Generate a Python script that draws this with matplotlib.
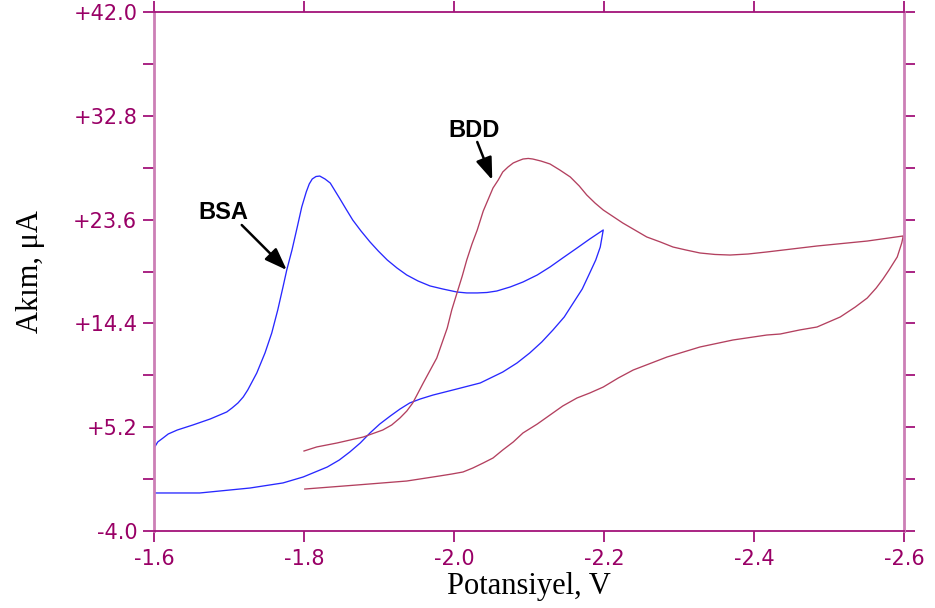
import matplotlib
matplotlib.use("Agg")
import matplotlib.pyplot as plt

# --- BSA voltammogram (cathodic sweep, then return sweep) ---
bsa_v = [-1.600, -1.661, -1.728, -1.772, -1.799, -1.815, -1.831, -1.847, -1.861, -1.875,
         -1.888, -1.901, -1.915, -1.928, -1.941, -1.955, -1.972, -2.004, -2.035, -2.065,
         -2.084, -2.101, -2.117, -2.132, -2.147, -2.159, -2.171, -2.181, -2.189, -2.195,
         -2.199,
         -2.181, -2.164, -2.145, -2.128, -2.111, -2.092, -2.075, -2.057, -2.044, -2.031,
         -2.017, -2.004, -1.985, -1.968, -1.952, -1.937, -1.924, -1.911, -1.899, -1.888,
         -1.876, -1.865, -1.856, -1.848, -1.835, -1.828, -1.821, -1.816, -1.811, -1.807,
         -1.803, -1.797, -1.791, -1.784, -1.777, -1.772, -1.765, -1.757, -1.748, -1.737,
         -1.725, -1.719, -1.712, -1.704, -1.697, -1.675, -1.652, -1.631, -1.619, -1.612,
         -1.605, -1.601]
bsa_i = [-0.63, -0.63, -0.19, 0.26, 0.79, 1.23, 1.67, 2.29, 3.00, 3.80,
         4.69, 5.48, 6.19, 6.81, 7.35, 7.70, 8.05, 8.59, 9.12, 10.09,
         10.89, 11.78, 12.75, 13.82, 14.97, 16.21, 17.45, 18.87, 20.02, 21.17,
         22.68,
         21.88, 21.08, 20.20, 19.40, 18.69, 18.07, 17.63, 17.27, 17.14, 17.10,
         17.10, 17.18, 17.45, 17.72, 18.16, 18.69, 19.31, 20.02, 20.82, 21.62,
         22.59, 23.56, 24.54, 25.43, 26.84, 27.20, 27.46, 27.42, 27.20, 26.76,
         26.05, 24.72, 22.94, 20.91, 19.13, 17.63, 15.59, 13.55, 11.78, 10.00,
         8.50, 7.88, 7.35, 6.90, 6.55, 5.93, 5.40, 4.95, 4.60, 4.24,
         3.89, 3.45]

# --- BDD voltammogram ---
bdd_v = [-1.800, -1.817, -1.844, -1.879, -1.905, -1.917, -1.928, -1.937, -1.945, -1.952,
         -1.959, -1.977, -1.984, -1.991, -1.997, -2.004, -2.011, -2.017, -2.024, -2.031,
         -2.039, -2.052, -2.059, -2.065, -2.072, -2.079, -2.085, -2.092, -2.099, -2.105,
         -2.116, -2.128, -2.141, -2.155, -2.167, -2.177, -2.188, -2.199, -2.211, -2.225,
         -2.241, -2.257, -2.275, -2.292, -2.309, -2.328, -2.348, -2.368, -2.392, -2.417,
         -2.484, -2.551, -2.599,
         -2.597, -2.591, -2.580, -2.572, -2.563, -2.551, -2.535, -2.515, -2.484, -2.461,
         -2.435, -2.417, -2.372, -2.328, -2.284, -2.239, -2.219, -2.199, -2.181, -2.164,
         -2.145, -2.128, -2.111, -2.092, -2.079, -2.065, -2.052, -2.039, -2.025, -2.012,
         -1.997, -1.981, -1.937, -1.871, -1.801]
bdd_i = [3.09, 3.45, 3.80, 4.33, 4.95, 5.40, 6.02, 6.63, 7.35, 8.23,
         9.12, 11.33, 12.66, 13.99, 15.59, 17.10, 18.60, 20.02, 21.44, 22.68,
         24.36, 26.40, 27.11, 27.82, 28.26, 28.62, 28.79, 28.97, 29.02, 28.97,
         28.79, 28.53, 28.00, 27.38, 26.58, 25.78, 25.07, 24.45, 23.92, 23.30,
         22.68, 22.06, 21.62, 21.17, 20.91, 20.64, 20.51, 20.46, 20.55, 20.73,
         21.26, 21.70, 22.15,
         21.53, 20.29, 19.13, 18.34, 17.54, 16.65, 15.85, 14.97, 14.08, 13.82,
         13.46, 13.37, 12.93, 12.31, 11.42, 10.27, 9.56, 8.76, 8.23, 7.79,
         7.08, 6.28, 5.48, 4.69, 3.89, 3.18, 2.47, 2.03, 1.58, 1.23,
         1.05, 0.88, 0.43, 0.08, -0.28]

x_ticks = [-1.6, -1.8, -2.0, -2.2, -2.4, -2.6]
x_labels = ["-1.6", "-1.8", "-2.0", "-2.2", "-2.4", "-2.6"]
y_ticks = [-4.0, 5.2, 14.4, 23.6, 32.8, 42.0]
y_labels = ["-4.0", "+5.2", "+14.4", "+23.6", "+32.8", "+42.0"]
y_minor = [0.6, 9.8, 19.0, 28.2, 37.4]

# annotation anchors (text centre, arrow tail, arrow tip)
bsa_text = (-1.693, 24.27)
bsa_tail = (-1.717, 23.12)
bsa_tip = (-1.777, 19.13)
bdd_text = (-2.027, 31.54)
bdd_tail = (-2.031, 30.48)
bdd_tip = (-2.051, 27.11)

frame_dark = "#a3127a"
frame_light = "#cc7fb6"
label_col = "#990066"

fig = plt.figure(figsize=(9.35, 6.08), dpi=100)
ax = fig.add_axes([154 / 935, 77 / 608, 750 / 935, 519 / 608])

ax.plot(bsa_v, bsa_i, color="#2828ff", lw=0.95, solid_joinstyle="round")
ax.plot(bdd_v, bdd_i, color="#b3405f", lw=0.95, solid_joinstyle="round")

ax.set_xlim(-1.6, -2.6)
ax.set_ylim(-4.0, 42.0)

ax.set_xticks(x_ticks)
ax.set_xticklabels(x_labels)
ax.set_yticks(y_ticks)
ax.set_yticklabels(y_labels)
ax.set_yticks(y_minor, minor=True)

for side in ("top", "bottom"):
    ax.spines[side].set_color(frame_dark)
    ax.spines[side].set_linewidth(1.3)
for side in ("left", "right"):
    ax.spines[side].set_color(frame_light)
    ax.spines[side].set_linewidth(2.0)

ax.tick_params(axis="both", which="both", direction="out", color=frame_dark,
               width=1.3, length=8, labelcolor=label_col,
               labelfontfamily="DejaVu Sans", labelsize=15)
ax.tick_params(axis="x", which="both", top=True, bottom=True, pad=5)
ax.tick_params(axis="y", which="both", left=True, right=True, pad=4)

ax.set_xlabel("Potansiyel, V", family="Liberation Serif", fontsize=22, labelpad=2)
ax.set_ylabel("Akım, μA", family="Liberation Serif", fontsize=22, labelpad=20)

arrow_kw = dict(arrowstyle="-|>,head_length=0.9,head_width=0.33", color="black",
                lw=1.8, shrinkA=0, shrinkB=0, mutation_scale=15)
ax.text(*bsa_text, "BSA", family="Liberation Sans", fontweight="bold",
        fontsize=17, ha="center", va="center")
ax.annotate("", xy=bsa_tip, xytext=bsa_tail, arrowprops=arrow_kw)
ax.text(*bdd_text, "BDD", family="Liberation Sans", fontweight="bold",
        fontsize=17, ha="center", va="center")
ax.annotate("", xy=bdd_tip, xytext=bdd_tail, arrowprops=arrow_kw)

fig.savefig("out.png", dpi=100)
